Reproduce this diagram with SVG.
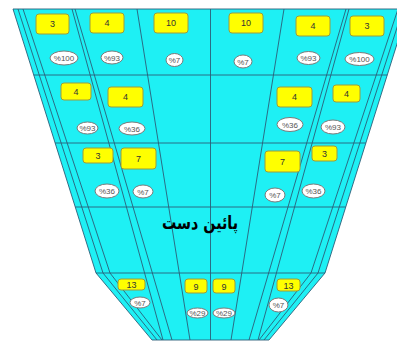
<svg xmlns="http://www.w3.org/2000/svg" width="397" height="344" viewBox="0 0 397 344">
<style>
.ln{fill:none;stroke:#2b5d78;stroke-width:0.9}
.bx rect{fill:#ffff00;stroke:#9c9c3c;stroke-width:1}
.bx text{font-family:"Liberation Sans",Arial,sans-serif;font-size:9px;fill:#333;text-anchor:middle}
.el ellipse{fill:#ffffff;stroke:#7a7a7a;stroke-width:1}
.el text{font-family:"Liberation Sans",Arial,sans-serif;font-size:8px;fill:#555;text-anchor:middle}
</style>
<rect width="397" height="344" fill="#ffffff"/>
<polygon id="shape" points="13,9 96,273 152,340 269,340 325,273 408,9" fill="#1ef0f4" stroke="#2b5d78" stroke-width="0.9"/>
<g id="connectors">
<line class="ln" x1="33.7" y1="75" x2="387.3" y2="75"/>
<line class="ln" x1="55.1" y1="143" x2="365.9" y2="143"/>
<line class="ln" x1="75.3" y1="207" x2="345.7" y2="207"/>
<line class="ln" x1="96" y1="273" x2="325" y2="273"/>
<path class="ln" d="M18,9 L103,273 L157,340"/>
<path class="ln" d="M23,9 L110,273 L162,340"/>
<path class="ln" d="M72,9 L163,340"/>
<path class="ln" d="M75,9 L172,340"/>
<path class="ln" d="M137,9 L190,340"/>
<path class="ln" d="M210.5,9 L210.5,340"/>
<path class="ln" d="M403,9 L318,273 L264,340"/>
<path class="ln" d="M398,9 L311,273 L259,340"/>
<path class="ln" d="M349,9 L258,340"/>
<path class="ln" d="M346,9 L249,340"/>
<path class="ln" d="M284,9 L231,340"/>
</g>
<g id="b1" class="bx"><rect x="36" y="14" width="33" height="20" rx="3"/><text x="52.5" y="27">3</text></g>
<g id="b2" class="bx"><rect x="90" y="13" width="34" height="20" rx="3"/><text x="107" y="26">4</text></g>
<g id="b3" class="bx"><rect x="154" y="13" width="34" height="20" rx="3"/><text x="171" y="26">10</text></g>
<g id="b4" class="bx"><rect x="229" y="13" width="34" height="20" rx="3"/><text x="246" y="26">10</text></g>
<g id="b5" class="bx"><rect x="296" y="16" width="34" height="20" rx="3"/><text x="313" y="29">4</text></g>
<g id="b6" class="bx"><rect x="350" y="16" width="34" height="20" rx="3"/><text x="367" y="29">3</text></g>
<g id="e1" class="el"><ellipse cx="64" cy="58" rx="14" ry="7"/><text x="64" y="61">%100</text></g>
<g id="e2" class="el"><ellipse cx="112" cy="57.5" rx="11" ry="6.5"/><text x="112" y="60.5">%93</text></g>
<g id="e3" class="el"><ellipse cx="174.5" cy="60" rx="8.5" ry="6.5"/><text x="174.5" y="63">%7</text></g>
<g id="e4" class="el"><ellipse cx="243" cy="61.5" rx="9" ry="6.5"/><text x="243" y="64.5">%7</text></g>
<g id="e5" class="el"><ellipse cx="308.5" cy="58" rx="11.5" ry="6.5"/><text x="308.5" y="61">%93</text></g>
<g id="e6" class="el"><ellipse cx="359.5" cy="59" rx="14.5" ry="6.5"/><text x="359.5" y="62">%100</text></g>
<g id="b7" class="bx"><rect x="61" y="83" width="30" height="17" rx="3"/><text x="76" y="94.5">4</text></g>
<g id="b8" class="bx"><rect x="108" y="87" width="35" height="20" rx="3"/><text x="125.5" y="100">4</text></g>
<g id="b9" class="bx"><rect x="277" y="87" width="35" height="20" rx="3"/><text x="294.5" y="100">4</text></g>
<g id="b10" class="bx"><rect x="333" y="85" width="27" height="17" rx="3"/><text x="346.5" y="96.5">4</text></g>
<g id="e7" class="el"><ellipse cx="87.5" cy="128" rx="10.5" ry="6"/><text x="87.5" y="131">%93</text></g>
<g id="e8" class="el"><ellipse cx="132" cy="128.5" rx="13" ry="6.5"/><text x="132" y="131.5">%36</text></g>
<g id="e9" class="el"><ellipse cx="290" cy="124.5" rx="13" ry="7"/><text x="290" y="127.5">%36</text></g>
<g id="e10" class="el"><ellipse cx="333" cy="127" rx="12" ry="7"/><text x="333" y="130">%93</text></g>
<g id="b11" class="bx"><rect x="83" y="148" width="30" height="15" rx="3"/><text x="98" y="158.5">3</text></g>
<g id="b12" class="bx"><rect x="121" y="148" width="35" height="21" rx="3"/><text x="138.5" y="161.5">7</text></g>
<g id="b13" class="bx"><rect x="265" y="151" width="35" height="21" rx="3"/><text x="282.5" y="164.5">7</text></g>
<g id="b14" class="bx"><rect x="312" y="146" width="25" height="15" rx="3"/><text x="324.5" y="156.5">3</text></g>
<g id="e11" class="el"><ellipse cx="107" cy="191" rx="12" ry="7"/><text x="107" y="194">%36</text></g>
<g id="e12" class="el"><ellipse cx="143" cy="191.5" rx="10" ry="6.5"/><text x="143" y="194.5">%7</text></g>
<g id="e13" class="el"><ellipse cx="275" cy="195" rx="10" ry="7"/><text x="275" y="198">%7</text></g>
<g id="e14" class="el"><ellipse cx="313.5" cy="191" rx="11.5" ry="7"/><text x="313.5" y="194">%36</text></g>
<g id="title"><text x="200" y="229" font-family="DejaVu Sans, sans-serif" font-size="18" font-weight="bold" fill="#000" text-anchor="middle" direction="rtl" textLength="76" lengthAdjust="spacingAndGlyphs">پائین دست</text></g>
<g id="b15" class="bx"><rect x="118" y="279" width="27" height="11" rx="3"/><text x="131.5" y="288">13</text></g>
<g id="b16" class="bx"><rect x="185" y="279" width="22" height="14" rx="3"/><text x="196" y="289.5">9</text></g>
<g id="b17" class="bx"><rect x="213" y="279" width="22" height="14" rx="3"/><text x="224" y="289.5">9</text></g>
<g id="b18" class="bx"><rect x="277" y="279" width="23" height="12" rx="3"/><text x="288.5" y="288.5">13</text></g>
<g id="e15" class="el"><ellipse cx="140" cy="302.5" rx="10" ry="5.5"/><text x="140" y="305.5">%7</text></g>
<g id="e16" class="el"><ellipse cx="197.5" cy="313" rx="10.5" ry="5"/><text x="197.5" y="316">%29</text></g>
<g id="e17" class="el"><ellipse cx="224" cy="313" rx="11" ry="5"/><text x="224" y="316">%29</text></g>
<g id="e18" class="el"><ellipse cx="278.5" cy="305" rx="9.5" ry="7"/><text x="278.5" y="308">%7</text></g>
</svg>
